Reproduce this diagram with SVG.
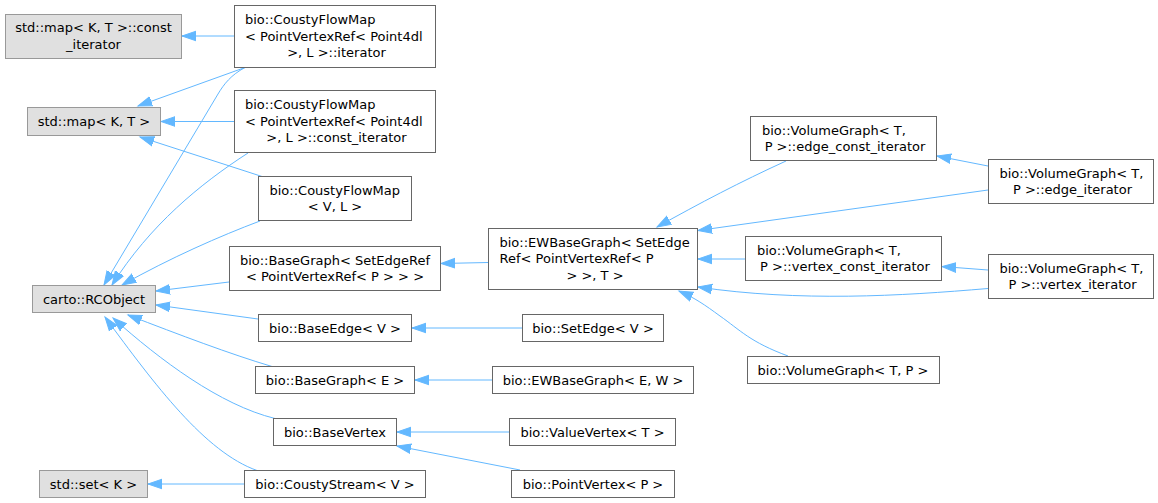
<svg xmlns="http://www.w3.org/2000/svg" width="1158" height="503" viewBox="0 0 1158 503">
<style>
text{font-family:"DejaVu Sans","Liberation Sans",sans-serif;font-size:13px;fill:#000}
.c{text-anchor:middle}
.g{fill:#E0E0E0;stroke:#999999;stroke-width:1}
.w{fill:#FFFFFF;stroke:#666666;stroke-width:1}
.e{fill:none;stroke:#63B8FF;stroke-width:1;marker-end:url(#ah)}
</style>
<defs>
<marker id="ah" markerUnits="userSpaceOnUse" markerWidth="16" markerHeight="12" refX="14" refY="6" orient="auto" viewBox="0 0 16 12">
<path d="M0,1.2 L14,6 L0,10.8 z" fill="#63B8FF" stroke="#63B8FF" stroke-width="1"/>
</marker>
</defs>
<rect width="1158" height="503" fill="#FFFFFF"/>
<g id="edges">
<path class="e" d="M234,36 L182,36"/>
<path class="e" d="M245,67.5 L138,106"/>
<path class="e" d="M245,67.5 C231,75 224,84 218,94 L104,285"/>
<path class="e" d="M234,121.5 L161,121.5"/>
<path class="e" d="M248,153 C200,184 150,225 112,285"/>
<path class="e" d="M262,176.5 L140,137"/>
<path class="e" d="M260,221 C220,236 170,258 122,285"/>
<path class="e" d="M229,282 L156,291"/>
<path class="e" d="M488,262.5 L441,263.5"/>
<path class="e" d="M258,319 L156,305"/>
<path class="e" d="M272,366.5 C230,354 180,335 128,315"/>
<path class="e" d="M275,418.5 C220,405 160,360 113,318"/>
<path class="e" d="M257,470.5 C205,452 155,385 105,317"/>
<path class="e" d="M244,484 L148,484"/>
<path class="e" d="M522,328 L412,328"/>
<path class="e" d="M492,380 L415,380"/>
<path class="e" d="M509,432 L397,432"/>
<path class="e" d="M520,470 L397,446"/>
<path class="e" d="M786,161 C740,182 700,203 657,227"/>
<path class="e" d="M988,190 L698,230.5"/>
<path class="e" d="M988,166 L937,156"/>
<path class="e" d="M745,259 L698,259"/>
<path class="e" d="M988,270 L942,266.5"/>
<path class="e" d="M988,288.5 C900,296 800,302 698,287"/>
<path class="e" d="M788,356 C750,342 740,330 720,316 C705,305 695,298 679,291"/>
</g>
<g id="n_map_const_iterator">
<rect class="g" x="5.5" y="14.5" width="176" height="44"/>
<text class="c" x="93.5" y="32">std::map&lt; K, T &gt;::const</text>
<text class="c" x="93.5" y="48.5">_iterator</text>
</g>
<g id="n_cfm_iterator">
<rect class="w" x="234.5" y="5.5" width="201" height="62"/>
<text x="245" y="24">bio::CoustyFlowMap</text>
<text x="245" y="40.5">&lt; PointVertexRef&lt; Point4dl</text>
<text class="c" x="336.5" y="57">&gt;, L &gt;::iterator</text>
</g>
<g id="n_map">
<rect class="g" x="27.5" y="107.5" width="133" height="28"/>
<text class="c" x="94" y="126">std::map&lt; K, T &gt;</text>
</g>
<g id="n_cfm_const_iterator">
<rect class="w" x="234.5" y="90.5" width="201" height="62"/>
<text x="245" y="109">bio::CoustyFlowMap</text>
<text x="245" y="125.5">&lt; PointVertexRef&lt; Point4dl</text>
<text class="c" x="336.5" y="142">&gt;, L &gt;::const_iterator</text>
</g>
<g id="n_cfm">
<rect class="w" x="258.5" y="176.5" width="153" height="44"/>
<text x="269.5" y="194.5">bio::CoustyFlowMap</text>
<text class="c" x="335" y="211">&lt; V, L &gt;</text>
</g>
<g id="n_basegraph_setedgeref">
<rect class="w" x="229.5" y="246.5" width="211" height="44"/>
<text class="c" x="335" y="264.5">bio::BaseGraph&lt; SetEdgeRef</text>
<text class="c" x="335" y="281">&lt; PointVertexRef&lt; P &gt; &gt; &gt;</text>
</g>
<g id="n_rcobject">
<rect class="g" x="32.5" y="285.5" width="123" height="27"/>
<text class="c" x="94" y="303.5">carto::RCObject</text>
</g>
<g id="n_baseedge">
<rect class="w" x="258.5" y="314.5" width="153" height="27"/>
<text class="c" x="335" y="332.5">bio::BaseEdge&lt; V &gt;</text>
</g>
<g id="n_basegraph_e">
<rect class="w" x="255.5" y="366.5" width="159" height="27"/>
<text class="c" x="335" y="384.5">bio::BaseGraph&lt; E &gt;</text>
</g>
<g id="n_basevertex">
<rect class="w" x="273.5" y="418.5" width="123" height="27"/>
<text class="c" x="335" y="436.5">bio::BaseVertex</text>
</g>
<g id="n_set">
<rect class="g" x="39.5" y="470.5" width="108" height="27"/>
<text class="c" x="93.5" y="488.5">std::set&lt; K &gt;</text>
</g>
<g id="n_coustystream">
<rect class="w" x="244.5" y="470.5" width="181" height="27"/>
<text class="c" x="335" y="488.5">bio::CoustyStream&lt; V &gt;</text>
</g>
<g id="n_ewbasegraph_setedgeref">
<rect class="w" x="488.5" y="228.5" width="209" height="61"/>
<text x="499.5" y="246.5">bio::EWBaseGraph&lt; SetEdge</text>
<text x="499.5" y="263">Ref&lt; PointVertexRef&lt; P</text>
<text class="c" x="595" y="279.5">&gt; &gt;, T &gt;</text>
</g>
<g id="n_setedge">
<rect class="w" x="522.5" y="314.5" width="141" height="27"/>
<text class="c" x="593" y="332.5">bio::SetEdge&lt; V &gt;</text>
</g>
<g id="n_ewbasegraph_ew">
<rect class="w" x="492.5" y="366.5" width="201" height="27"/>
<text class="c" x="593" y="384.5">bio::EWBaseGraph&lt; E, W &gt;</text>
</g>
<g id="n_valuevertex">
<rect class="w" x="509.5" y="418.5" width="166" height="27"/>
<text class="c" x="592.5" y="436.5">bio::ValueVertex&lt; T &gt;</text>
</g>
<g id="n_pointvertex">
<rect class="w" x="511.5" y="470.5" width="163" height="27"/>
<text class="c" x="593" y="488.5">bio::PointVertex&lt; P &gt;</text>
</g>
<g id="n_vg_edge_const_iterator">
<rect class="w" x="750.5" y="116.5" width="186" height="44"/>
<text x="762" y="134.5">bio::VolumeGraph&lt; T,</text>
<text class="c" x="845" y="151">P &gt;::edge_const_iterator</text>
</g>
<g id="n_vg_edge_iterator">
<rect class="w" x="988.5" y="159.5" width="165" height="44"/>
<text x="999.5" y="177.5">bio::VolumeGraph&lt; T,</text>
<text class="c" x="1072.5" y="194">P &gt;::edge_iterator</text>
</g>
<g id="n_vg_vertex_const_iterator">
<rect class="w" x="745.5" y="236.5" width="196" height="44"/>
<text x="757" y="254.5">bio::VolumeGraph&lt; T,</text>
<text class="c" x="845" y="271">P &gt;::vertex_const_iterator</text>
</g>
<g id="n_vg_vertex_iterator">
<rect class="w" x="988.5" y="254.5" width="165" height="44"/>
<text x="999.5" y="272.5">bio::VolumeGraph&lt; T,</text>
<text class="c" x="1072.5" y="289">P &gt;::vertex_iterator</text>
</g>
<g id="n_volumegraph">
<rect class="w" x="747.5" y="356.5" width="192" height="27"/>
<text class="c" x="843" y="374.5">bio::VolumeGraph&lt; T, P &gt;</text>
</g>
</svg>
